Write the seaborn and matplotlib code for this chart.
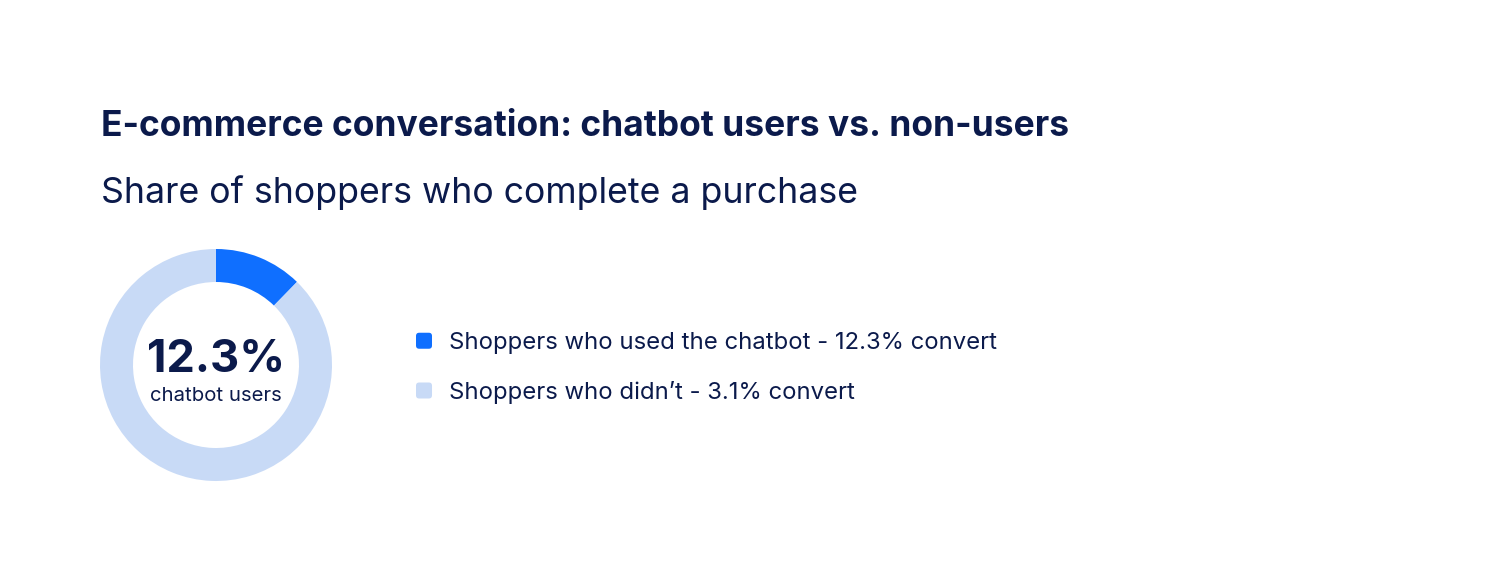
import matplotlib
matplotlib.use("Agg")
import matplotlib.pyplot as plt
import matplotlib.patches as mpatches
from matplotlib.legend_handler import HandlerPatch
import seaborn as sns

# data
segments = ["Shoppers who used the chatbot", "Rest of shoppers"]
shares = [12.3, 87.7]
legend_groups = ["Shoppers who used the chatbot", "Shoppers who didn\u2019t"]
conversion = [12.3, 3.1]
center_value = 12.3
center_label = "chatbot users"
title = "E-commerce conversation: chatbot users vs. non-users"
subtitle = "Share of shoppers who complete a purchase"

sns.set_theme(style="white")
plt.rcParams["font.family"] = ["Inter", "DejaVu Sans"]

navy = "#0b1a4b"
colors = ["#0f6fff", "#c8daf6"]

W, H = 1488, 582
fig = plt.figure(figsize=(W / 100, H / 100), dpi=100)
fig.patch.set_facecolor("white")

# donut: center (216,365), outer radius 116 px
cx, cy, r = 216, 365, 116
ax = fig.add_axes([(cx - r) / W, (H - cy - r) / H, 2 * r / W, 2 * r / H])
ax.pie(shares, colors=colors, startangle=90, counterclock=False, radius=1,
       wedgeprops=dict(width=33 / r, linewidth=0))
ax.set_xlim(-1, 1)
ax.set_ylim(-1, 1)
ax.set_aspect("equal")
ax.axis("off")

ax.text(0, 0.045, f"{center_value}%", ha="center", va="center",
        fontsize=32.5, fontweight="bold", color=navy)
ax.text(0, -0.265, center_label, ha="center", va="center",
        fontsize=14.6, color=navy)

fig.text(101 / W, 1 - 136 / H, title, fontsize=25.5, fontweight="bold",
         color=navy, va="baseline", ha="left")
fig.text(101 / W, 1 - 203 / H, subtitle, fontsize=25.7, color=navy,
         va="baseline", ha="left")


class RoundedHandler(HandlerPatch):
    def create_artists(self, legend, orig_handle, xdescent, ydescent,
                       width, height, fontsize, trans):
        s = min(width, height)
        p = mpatches.FancyBboxPatch((-xdescent, -ydescent + (height - s) / 2),
                                    s, s, boxstyle=f"round,pad=0,rounding_size={s * 0.2}",
                                    facecolor=orig_handle.get_facecolor(),
                                    edgecolor="none", transform=trans)
        return [p]


handles = [mpatches.Patch(facecolor=c) for c in colors]
labels = [f"{g} - {v}% convert" for g, v in zip(legend_groups, conversion)]
leg = fig.legend(handles, labels, loc="center left",
                 bbox_to_anchor=(416 / W, 1 - 368 / H),
                 bbox_transform=fig.transFigure, frameon=False,
                 fontsize=17.2, handlelength=0.67, handleheight=0.67,
                 handletextpad=0.7, labelspacing=1.12, borderpad=0,
                 borderaxespad=0,
                 handler_map={mpatches.Patch: RoundedHandler()})
for t in leg.get_texts():
    t.set_color(navy)

fig.savefig("out.png", dpi=100, facecolor="white")
